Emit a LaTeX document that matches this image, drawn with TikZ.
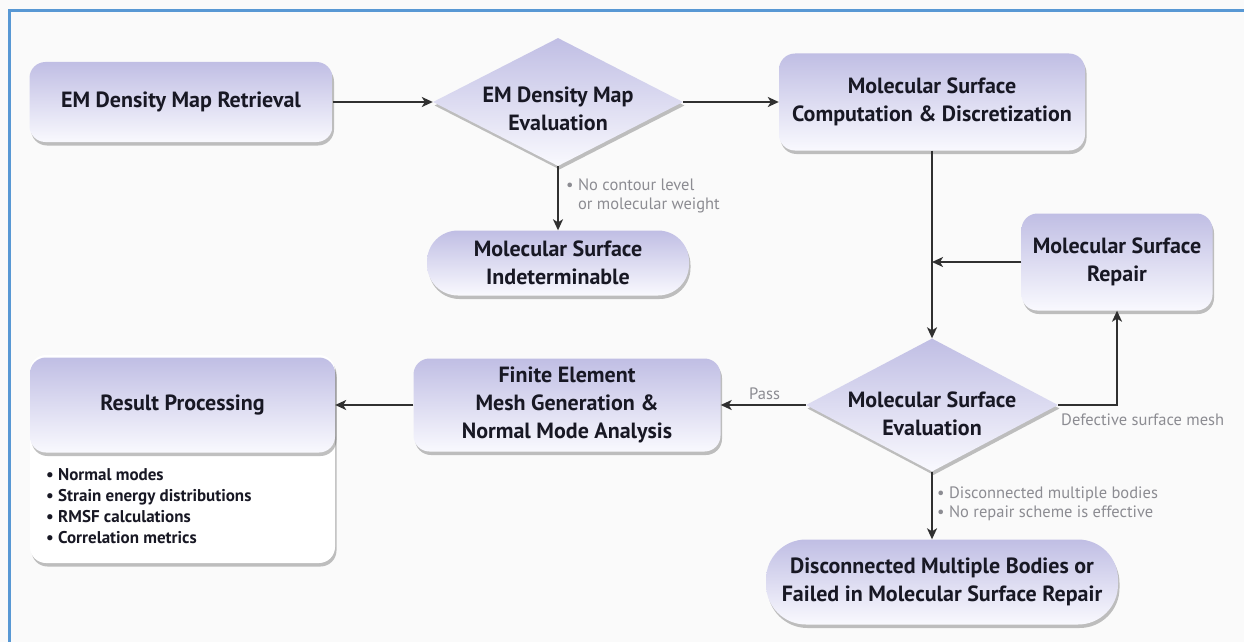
\documentclass[tikz,border=0pt]{standalone}
\usepackage{fontspec}
\setmainfont{PT Sans}
\usetikzlibrary{shapes.geometric,shadows,arrows.meta}
\definecolor{boxtop}{RGB}{192,190,228}
\definecolor{boxbot}{RGB}{249,249,254}
\definecolor{txt}{RGB}{24,24,36}
\definecolor{lbl}{RGB}{140,140,146}
\definecolor{arr}{RGB}{48,48,48}
\definecolor{framecol}{RGB}{88,152,212}
\begin{document}
\begin{tikzpicture}[x=1pt,y=-1pt,
  shad/.style={drop shadow={shadow xshift=1.5pt,shadow yshift=-3.5pt,opacity=0.35,fill=black!70}},
  box/.style={shad, rounded corners=16pt, top color=boxtop, bottom color=boxbot, draw=none,
    font=\fontsize{22}{28}\selectfont\bfseries, text=txt, align=center, inner sep=0pt},
  dia/.style={shad, diamond, aspect=1.95, top color=boxtop, bottom color=boxbot, draw=none, inner sep=0pt},
  diatext/.style={font=\fontsize{22}{28}\selectfont\bfseries, text=txt, align=center, inner sep=0pt},
  whitebox/.style={shad, rounded corners=16pt, fill=white, draw=none, inner sep=0pt},
  lab/.style={font=\fontsize{16.5}{19}\selectfont, text=lbl, align=left, inner sep=0pt},
  con/.style={draw=arr, line width=1.8pt, -{Stealth[length=11pt,width=10pt,inset=3pt]}},
]
\fill[white!98!black] (0,0) rectangle (1244,642);
\useasboundingbox (0,0) rectangle (1244,642);
\draw[framecol, line width=3pt] (9,642) -- (9,11) -- (1244,11);

% nodes
\node[box, minimum width=303pt, minimum height=80pt] (ret) at (181,102) {EM Density Map Retrieval};
\node[dia, minimum width=250pt, minimum height=128pt] (d1) at (558,102) {};
\node[diatext] (d1t) at (558,109) {EM Density Map\\Evaluation};
\node[box, minimum width=306pt, minimum height=97pt] (comp) at (932,102) {Molecular Surface\\Computation \& Discretization};
\node[box, rounded corners=31pt, minimum width=262pt, minimum height=65pt] (ind) at (558,263) {Molecular Surface\\Indeterminable};
\node[box, minimum width=191pt, minimum height=97pt] (rep) at (1117,262) {Molecular Surface\\Repair};
\node[dia, minimum width=252pt, minimum height=133pt] (d2) at (932,405) {};
\node[diatext] (d2t) at (932,414) {Molecular Surface\\Evaluation};
\node[box, minimum width=307pt, minimum height=93pt] (fe) at (567,405) {Finite Element\\Mesh Generation \&\\Normal Mode Analysis};
\node[whitebox, minimum width=305pt, minimum height=208pt] (rbody) at (182.5,459) {};
\node[box, minimum width=305pt, minimum height=95pt] (res) at (182.5,405) {Result Processing};
\node[font=\fontsize{17}{21}\selectfont\bfseries, text=txt, align=left, inner sep=0pt, anchor=north west] (bul) at (46,468)
  {\textbullet\ Normal modes\\\textbullet\ Strain energy distributions\\\textbullet\ RMSF calculations\\\textbullet\ Correlation metrics};
\node[box, rounded corners=40pt, minimum width=352pt, minimum height=85pt] (dis) at (942,582) {Disconnected Multiple Bodies or\\Failed in Molecular Surface Repair};

% connectors
\draw[con] (ret) -- (d1);
\draw[con] (d1) -- (comp);
\draw[con] (d1) -- (ind);
\draw[con] (comp) -- (d2);
\coordinate (join) at (rep.west -| d2.north);
\draw[con] (rep.west) -- (join);
\draw[con] (d2.east) -| (rep.south);
\draw[con] (d2.west) -- (fe.east);
\draw[con] (fe.west) -- (res.east);
\draw[con] (d2.south) -- (d2.south |- dis.north);

% labels
\node[lab, anchor=north west] (l1) at (566,179) {\textbullet\ No contour level\\\phantom{\textbullet\ }or molecular weight};
\node[lab, anchor=base west] (l2) at (749,399) {Pass};
\node[lab, anchor=base west] (l3) at (1061,425) {Defective surface mesh};
\node[lab, anchor=north west] (l4) at (937,487) {\textbullet\ Disconnected multiple bodies\\\textbullet\ No repair scheme is effective};
\end{tikzpicture}
\end{document}
